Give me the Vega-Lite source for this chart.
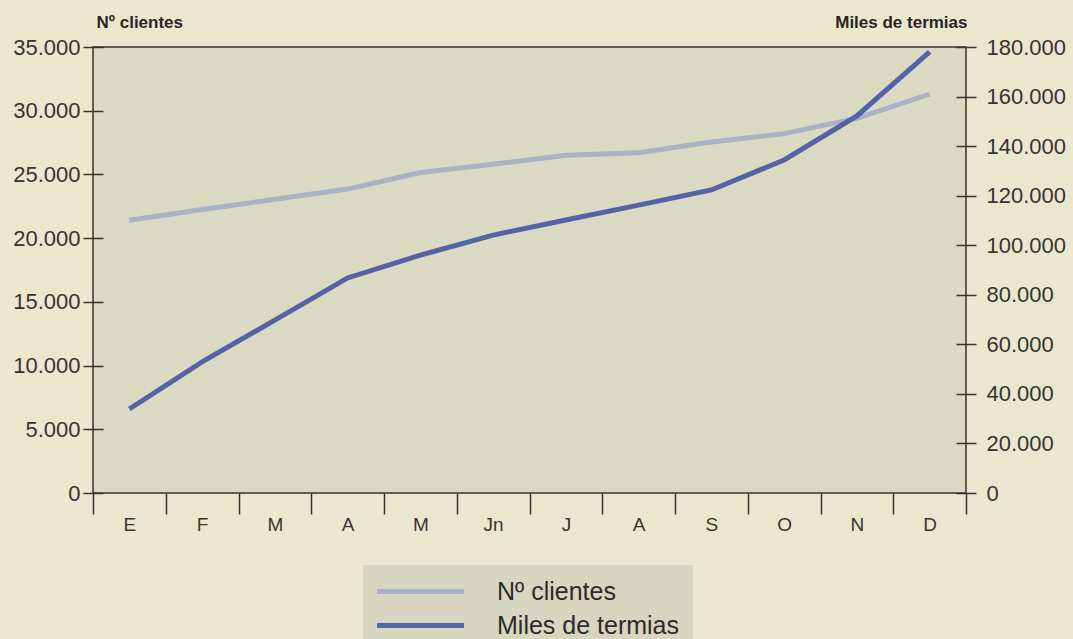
{
  "$schema": "https://vega.github.io/schema/vega-lite/v6.json",
  "width": 873,
  "height": 446,
  "autosize": {"type": "none"},
  "padding": {"left": 93, "top": 47, "right": 107, "bottom": 146},
  "background": "#e9e8cf",
  "config": {
    "view": {"fill": "#d9dac1", "stroke": "#3b302c", "strokeWidth": 1.5},
    "font": "Liberation Sans",
    "axis": {
      "domain": false,
      "grid": false,
      "labelFont": "Liberation Sans",
      "labelColor": "#3a3330",
      "tickColor": "#3b302c",
      "tickWidth": 1.5,
      "titleFont": "Liberation Sans"
    }
  },
  "data": {
    "values": [
      {"mes": "Ene", "clientes": 21400, "termias": 33900},
      {"mes": "Feb", "clientes": 22250, "termias": 52900},
      {"mes": "Mar", "clientes": 23050, "termias": 69800},
      {"mes": "Abr", "clientes": 23850, "termias": 86800},
      {"mes": "May", "clientes": 25150, "termias": 96000},
      {"mes": "Jun", "clientes": 25800, "termias": 104100},
      {"mes": "Jul", "clientes": 26500, "termias": 110200},
      {"mes": "Ago", "clientes": 26700, "termias": 116200},
      {"mes": "Sep", "clientes": 27550, "termias": 122300},
      {"mes": "Oct", "clientes": 28200, "termias": 134400},
      {"mes": "Nov", "clientes": 29400, "termias": 152200},
      {"mes": "Dic", "clientes": 31300, "termias": 178000}
    ]
  },
  "encoding": {
    "x": {
      "field": "mes",
      "type": "nominal",
      "sort": ["Ene", "Feb", "Mar", "Abr", "May", "Jun", "Jul", "Ago", "Sep", "Oct", "Nov", "Dic"],
      "scale": {"type": "band", "paddingInner": 0, "paddingOuter": 0},
      "axis": {
        "title": null,
        "tickBand": "extent",
        "tickSize": 21,
        "labelFontSize": 19,
        "labelPadding": 1,
        "labelAngle": 0,
        "labelExpr": "{'Ene':'E','Feb':'F','Mar':'M','Abr':'A','May':'M','Jun':'Jn','Jul':'J','Ago':'A','Sep':'S','Oct':'O','Nov':'N','Dic':'D'}[datum.value]"
      }
    }
  },
  "layer": [
    {
      "mark": {"type": "line", "strokeWidth": 5, "strokeCap": "butt"},
      "encoding": {
        "y": {
          "field": "clientes",
          "type": "quantitative",
          "scale": {"domain": [0, 35000], "nice": false, "zero": true},
          "axis": {
            "orient": "left",
            "values": [0, 5000, 10000, 15000, 20000, 25000, 30000, 35000],
            "offset": -10,
            "tickSize": 20,
            "labelPadding": 3,
            "labelFontSize": 22,
            "labelFlush": false,
            "labelOverlap": false,
            "labelExpr": "replace(format(datum.value, ','), ',', '.')",
            "title": "Nº clientes",
            "titleAngle": 0,
            "titleX": -7,
            "titleY": -25,
            "titleAlign": "left",
            "titleBaseline": "middle",
            "titleFontSize": 17,
            "titleFontWeight": "bold",
            "titleColor": "#2b2522"
          }
        },
        "color": {
          "datum": "Nº clientes",
          "type": "nominal",
          "scale": {"domain": ["Nº clientes", "Miles de termias"], "range": ["#a9b1c4", "#5263a6"]},
          "legend": {
            "title": null,
            "orient": "none",
            "legendX": 270,
            "legendY": 518,
            "direction": "vertical",
            "fillColor": "#d6d6c1",
            "padding": 14,
            "symbolType": "M-6,0L6,0",
            "symbolSize": 210,
            "symbolStrokeWidth": 5,
            "symbolOffset": 31,
            "labelFontSize": 25,
            "labelFont": "Liberation Sans",
            "labelColor": "#2f2a28",
            "labelOffset": 64,
            "labelLimit": 400,
            "rowPadding": 8
          }
        }
      }
    },
    {
      "mark": {"type": "line", "strokeWidth": 5, "strokeCap": "butt"},
      "encoding": {
        "y": {
          "field": "termias",
          "type": "quantitative",
          "scale": {"domain": [0, 180000], "nice": false, "zero": true},
          "axis": {
            "orient": "right",
            "values": [0, 20000, 40000, 60000, 80000, 100000, 120000, 140000, 160000, 180000],
            "offset": -10,
            "tickSize": 20,
            "labelPadding": 10,
            "labelFontSize": 22,
            "labelFlush": false,
            "labelOverlap": false,
            "labelExpr": "replace(format(datum.value, ','), ',', '.')",
            "title": "Miles de termias",
            "titleAngle": 0,
            "titleX": 11,
            "titleY": -25,
            "titleAlign": "right",
            "titleBaseline": "middle",
            "titleFontSize": 17,
            "titleFontWeight": "bold",
            "titleColor": "#2b2522"
          }
        },
        "color": {"datum": "Miles de termias", "type": "nominal"}
      }
    }
  ],
  "resolve": {"scale": {"y": "independent"}}
}
